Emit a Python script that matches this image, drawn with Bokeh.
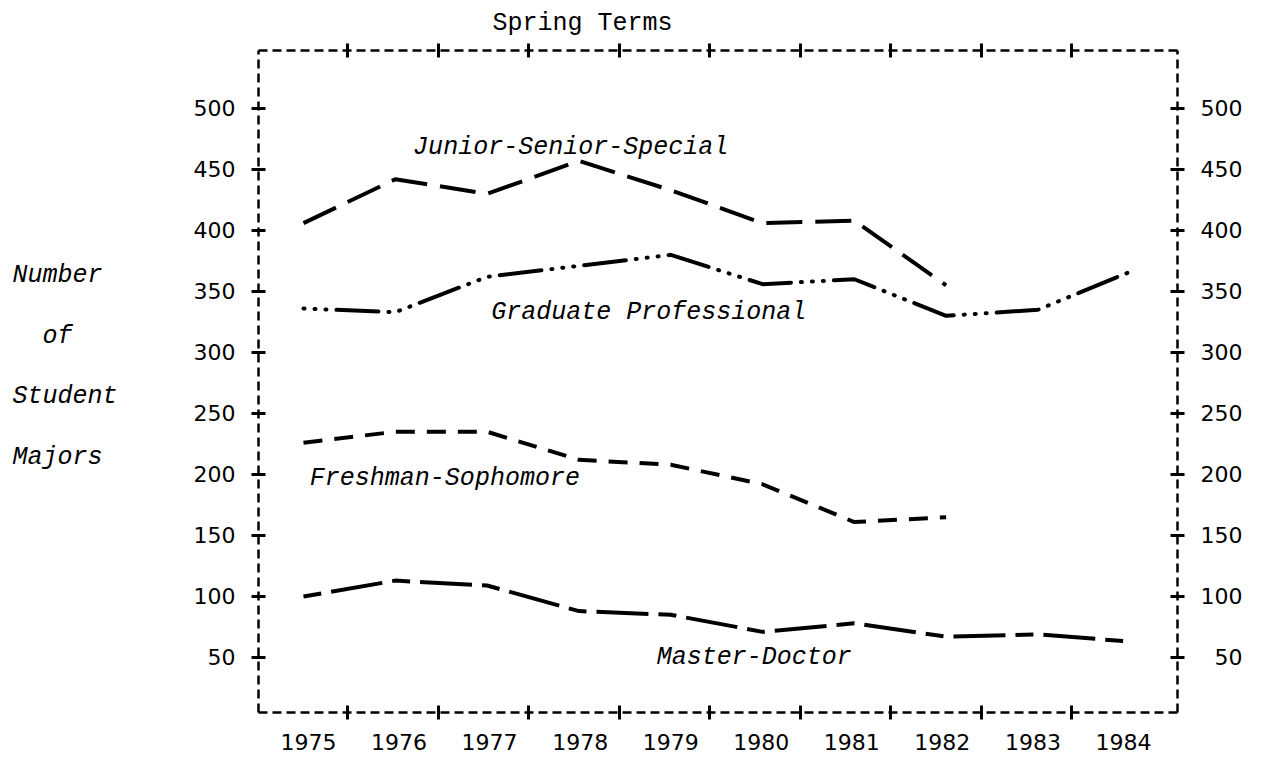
from bokeh.plotting import figure
from bokeh.models import LinearAxis, FixedTicker, Range1d, Label
from bokeh.embed import file_html
from bokeh.resources import INLINE

# ---- data ----
years = [1975, 1976, 1977, 1978, 1979, 1980, 1981, 1982, 1983, 1984]
jss_years = [1975, 1976, 1977, 1978, 1979, 1980, 1981, 1982]
junior_senior_special = [406, 442, 430, 457, 433, 406, 408, 355]
graduate_professional = [336, 333, 362, 371, 380, 356, 360, 330, 335, 366]
fs_years = [1975, 1976, 1977, 1978, 1979, 1980, 1981, 1982]
freshman_sophomore = [226, 235, 235, 212, 208, 192, 161, 165]
master_doctor = [100, 113, 109, 88, 85, 71, 78, 67, 69, 63]
y_ticks = [50, 100, 150, 200, 250, 300, 350, 400, 450, 500]
year_labels = [str(y) for y in years]
title_text = "Spring Terms"
NB = "\u00a0"
y_label_lines = ["Number" + NB, NB, NB * 2 + "of" + NB * 3, NB, "Student", NB, "Majors" + NB, NB]
series_names = ["Junior-Senior-Special", "Graduate Professional",
                "Freshman-Sophomore", "Master-Doctor"]

TYPE_FONT = "Liberation Mono"
NUM_FONT = "DejaVu Sans"

p = figure(width=1262, height=758, output_backend="svg", toolbar_location=None,
           x_range=Range1d(1974.51, 1984.52), y_range=Range1d(4.9, 547.5),
           x_axis_location=None, y_axis_location=None,
           min_border_left=258, min_border_right=85,
           min_border_top=50, min_border_bottom=46,
           title=title_text)
# typed-page scale used by the year labels and the frame ticks
p.extra_x_ranges = {"terms": Range1d(1974.448, 1984.597)}
p.outline_line_color = None
p.xgrid.visible = False
p.ygrid.visible = False
p.background_fill_color = "white"
p.border_fill_color = "white"

p.title.text_font = TYPE_FONT
p.title.text_font_size = "25px"
p.title.text_font_style = "normal"
p.title.text_color = "black"
p.title.align = "left"
p.title.offset = 234
p.title.standoff = 11

between_ticks = [y + 0.431 for y in years[:-1]]


def style_frame_axis(ax):
    ax.axis_line_color = "black"
    ax.axis_line_width = 2.5
    ax.axis_line_dash = "9 5"
    ax.major_tick_line_color = "black"
    ax.major_tick_line_width = 3
    ax.major_tick_in = 7
    ax.major_tick_out = 7
    ax.minor_tick_line_color = None
    ax.major_label_text_color = "black"


# left axis
left = LinearAxis(ticker=FixedTicker(ticks=y_ticks))
style_frame_axis(left)
left.major_label_text_font = NUM_FONT
left.major_label_text_font_size = "22px"
left.major_label_standoff = 16
left.axis_label = "\n".join(y_label_lines)
left.axis_label_orientation = "horizontal"
left.axis_label_text_font = TYPE_FONT
left.axis_label_text_font_style = "italic"
left.axis_label_text_font_size = "25px"
left.axis_label_text_line_height = 1.045
left.axis_label_text_color = "black"
left.axis_label_text_align = "center"
left.axis_label_standoff = 73
p.add_layout(left, "left")

# right axis (labels right-justified like the typed original)
right = LinearAxis(ticker=FixedTicker(ticks=y_ticks))
style_frame_axis(right)
right.major_label_text_font = NUM_FONT
right.major_label_text_font_size = "22px"
right.major_label_standoff = 16
right.major_label_overrides = {t: ("\u2007" * (3 - len(str(t)))) + str(t) for t in y_ticks}
p.add_layout(right, "right")

# bottom: "+" ticks between years
bottom_ticks = LinearAxis(x_range_name="terms", ticker=FixedTicker(ticks=between_ticks))
style_frame_axis(bottom_ticks)
bottom_ticks.major_label_text_font_size = "0px"
bottom_ticks.major_label_standoff = 0
p.add_layout(bottom_ticks, "below")

# bottom: year labels
bottom_labels = LinearAxis(x_range_name="terms", ticker=FixedTicker(ticks=years))
bottom_labels.axis_line_color = None
bottom_labels.major_tick_line_color = None
bottom_labels.minor_tick_line_color = None
bottom_labels.major_tick_in = 0
bottom_labels.major_tick_out = 0
bottom_labels.major_label_standoff = 14
bottom_labels.major_label_text_font = NUM_FONT
bottom_labels.major_label_text_font_size = "22px"
bottom_labels.major_label_text_color = "black"
bottom_labels.major_label_overrides = {y: s for y, s in zip(years, year_labels)}
p.add_layout(bottom_labels, "below")

# top axis
top = LinearAxis(x_range_name="terms", ticker=FixedTicker(ticks=between_ticks))
style_frame_axis(top)
top.major_label_text_font_size = "0px"
top.major_label_standoff = 0
p.add_layout(top, "above")

# ---- series ----
p.line(jss_years, junior_senior_special, line_color="black", line_width=4,
       line_dash="36 13")
p.line(years, graduate_professional, line_color="black", line_width=4,
       line_dash="1 10 1 10 1 10 42 10", line_cap="round")
p.line(fs_years, freshman_sophomore, line_color="black", line_width=4,
       line_dash="19 12")
p.line(years, master_doctor, line_color="black", line_width=4,
       line_dash="18 10 52 10")

# ---- series names ----
label_pos = [(1977.91, 468), (1978.76, 333), (1976.54, 197), (1979.91, 50)]
for name, (lx, ly) in zip(series_names, label_pos):
    p.add_layout(Label(x=lx, y=ly, text=name, text_align="center",
                       text_baseline="middle", text_font=TYPE_FONT,
                       text_font_style="italic", text_font_size="25px",
                       text_color="black"))

open("out.html", "w").write(file_html(p, INLINE))
